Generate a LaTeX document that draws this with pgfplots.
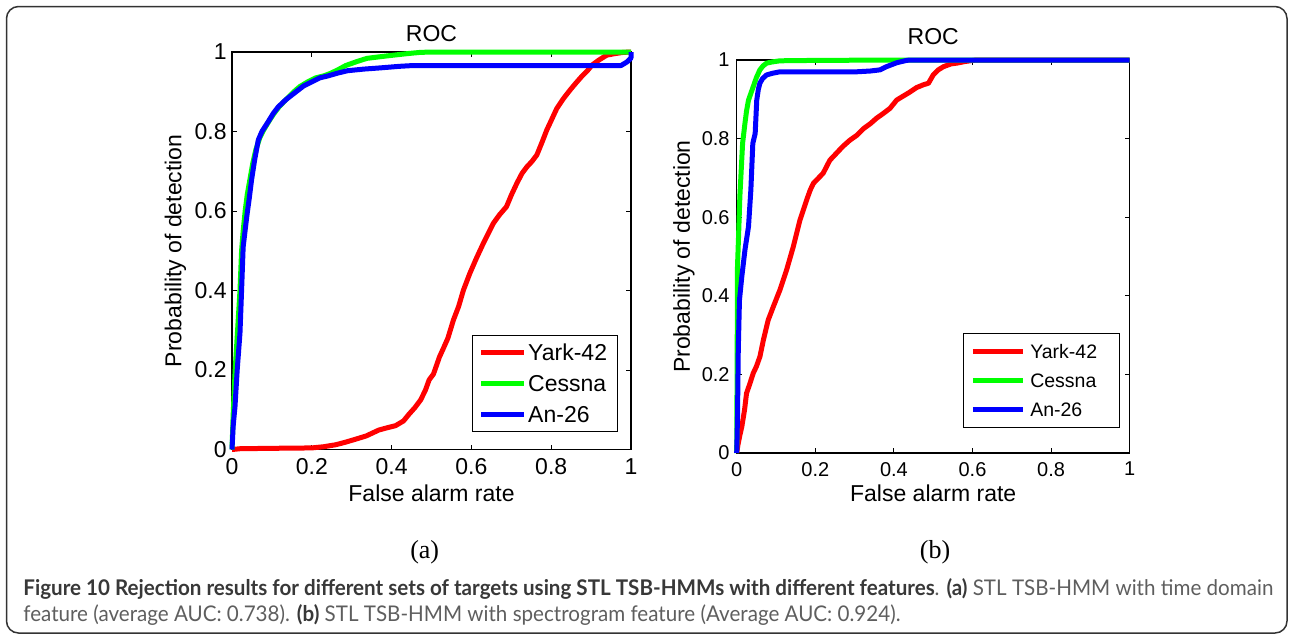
\documentclass[border=0pt]{standalone}
\usepackage{pgfplots}
\pgfplotsset{compat=1.18}
\usepackage{fontspec}
\usepackage{graphicx}
\setmainfont{Liberation Sans}
\newfontfamily\capfont{Lato}
\newfontfamily\serifcap{Liberation Serif}
\definecolor{capbold}{HTML}{383838}
\definecolor{capreg}{HTML}{5E5E5E}
\definecolor{framegray}{HTML}{333333}

\pgfplotstableread{
x y
0 0
0.02 0.002
0.1 0.003
0.2 0.004
0.23 0.007
0.26 0.012
0.283 0.018
0.31 0.026
0.336 0.034
0.368 0.049
0.39 0.055
0.41 0.06
0.43 0.072
0.442 0.087
0.458 0.105
0.473 0.125
0.485 0.15
0.494 0.175
0.505 0.19
0.52 0.233
0.53 0.255
0.541 0.28
0.555 0.326
0.568 0.36
0.58 0.401
0.596 0.443
0.612 0.48
0.63 0.519
0.643 0.545
0.655 0.569
0.67 0.59
0.688 0.611
0.70 0.64
0.714 0.67
0.727 0.695
0.739 0.711
0.752 0.725
0.764 0.741
0.777 0.773
0.789 0.804
0.802 0.832
0.814 0.858
0.83 0.882
0.847 0.904
0.862 0.922
0.876 0.938
0.89 0.952
0.902 0.967
0.92 0.98
0.939 0.992
0.96 0.996
0.98 0.999
1 1
}\redA

\pgfplotstableread{
x y
0 0
0.003 0.09
0.008 0.2
0.014 0.3
0.02 0.4
0.024 0.5
0.028 0.55
0.033 0.6
0.038 0.64
0.045 0.68
0.052 0.72
0.06 0.755
0.07 0.785
0.08 0.805
0.092 0.825
0.105 0.845
0.118 0.862
0.135 0.88
0.155 0.9
0.17 0.913
0.19 0.925
0.21 0.935
0.23 0.94
0.246 0.946
0.265 0.955
0.285 0.966
0.313 0.976
0.338 0.984
0.37 0.988
0.404 0.992
0.44 0.996
0.471 0.999
0.5 1
1 1
}\greenA

\pgfplotstableread{
x y
0 0
0.003 0.06
0.0075 0.108
0.013 0.2
0.02 0.293
0.024 0.4
0.028 0.51
0.037 0.586
0.043 0.63
0.049 0.678
0.057 0.73
0.066 0.779
0.075 0.8
0.091 0.825
0.103 0.845
0.116 0.862
0.135 0.88
0.158 0.898
0.18 0.915
0.2 0.925
0.22 0.935
0.241 0.94
0.265 0.947
0.29 0.953
0.33 0.957
0.371 0.960
0.42 0.964
0.454 0.966
0.6 0.966
0.8 0.966
0.975 0.966
0.99 0.975
1 0.985
1 1
}\blueA

\pgfplotstableread{
x y
0 0
0.003 0.02
0.008 0.045
0.013 0.067
0.02 0.11
0.025 0.152
0.033 0.175
0.042 0.203
0.05 0.22
0.059 0.245
0.068 0.288
0.08 0.338
0.093 0.372
0.11 0.415
0.127 0.466
0.144 0.525
0.161 0.593
0.17 0.62
0.178 0.644
0.187 0.669
0.195 0.686
0.22 0.712
0.237 0.745
0.254 0.763
0.27 0.78
0.288 0.796
0.305 0.808
0.322 0.825
0.34 0.838
0.356 0.852
0.373 0.864
0.39 0.877
0.407 0.898
0.415 0.903
0.44 0.918
0.458 0.93
0.475 0.937
0.488 0.941
0.5 0.962
0.513 0.975
0.526 0.983
0.545 0.99
0.56 0.992
0.58 0.996
0.594 0.998
0.61 1
1 1
}\redB

\pgfplotstableread{
x y
0 0
0.001 0.2
0.002 0.474
0.005 0.56
0.008 0.652
0.012 0.73
0.015 0.788
0.021 0.839
0.025 0.87
0.03 0.898
0.036 0.915
0.042 0.932
0.05 0.955
0.059 0.975
0.067 0.985
0.076 0.992
0.09 0.995
0.11 0.998
0.2 0.999
0.42 1
1 1
}\greenB

\pgfplotstableread{
x y
0 0
0.002 0.092
0.004 0.262
0.007 0.389
0.013 0.449
0.021 0.517
0.03 0.576
0.036 0.669
0.041 0.788
0.047 0.813
0.051 0.898
0.055 0.925
0.059 0.941
0.066 0.953
0.076 0.962
0.09 0.966
0.11 0.97
0.305 0.97
0.34 0.972
0.365 0.975
0.381 0.983
0.407 0.993
0.432 0.999
0.441 1
1 1
}\blueB

\pgfplotsset{
  rocaxis/.style={
    scale only axis, anchor=south west,
    xmin=0, xmax=1, ymin=0, ymax=1, clip=false,
    xtick={0,0.2,0.4,0.6,0.8,1}, ytick={0,0.2,0.4,0.6,0.8,1},
    xticklabels={0,0.2,0.4,0.6,0.8,1}, yticklabels={0,0.2,0.4,0.6,0.8,1},
    tick align=inside, major tick length=2.5pt,
    tick style={black, line width=0.5pt},
    axis line style={black, line width=0.6pt},
    /pgf/number format/assume math mode=true,
    every axis title shift=0pt,
    title={ROC}, xlabel={False alarm rate}, ylabel={Probability of detection},
    legend cell align=left,
    every axis plot/.append style={line width=2.5pt, line join=round},
  },
}

\begin{document}
\begin{tikzpicture}
\useasboundingbox (0,0) rectangle (644.5pt,-317pt);
\draw[framegray, line width=0.75pt, rounded corners=6pt] (3.25pt,-3.25pt) rectangle (643.5pt,-316.5pt);

% ---------- (a) ----------
\begin{axis}[rocaxis,
  at={(116pt,-224.75pt)}, width=199.5pt, height=198.75pt,
  ticklabel style={font=\fontsize{11.5}{13.8}\selectfont},
  xticklabel style={anchor=north, inner sep=0pt, yshift=-4.25pt},
  yticklabel style={anchor=east, inner sep=0pt, xshift=-2.5pt},
  title style={at={(0.5,1.0277)}, anchor=base, yshift=0pt, inner sep=0pt, font=\fontsize{11.5}{13.8}\selectfont},
  xlabel style={at={(0.5,-0.1308)}, anchor=base, inner sep=0pt, font=\fontsize{11.5}{13.8}\selectfont},
  ylabel style={at={(-0.1416,0.5)}, anchor=center, inner sep=0pt, font=\fontsize{11.5}{13.8}\selectfont},
  legend style={at={(0.967,0.288)}, anchor=north east, draw=black, line width=0.6pt, fill=white,
    inner xsep=3.25pt, inner ysep=4.35pt, row sep=7.2pt, column sep=0.75pt,
    font=\fontsize{11.5}{13.8}\selectfont,
    nodes={inner sep=0pt, text height=8.3pt, text depth=0pt, text width=41.25pt, align=left}},
  legend image code/.code={\draw[#1, line width=2.5pt] (0pt,0pt) -- (21.5pt,0pt);},
]
\addplot[red] table[x=x,y=y] {\redA}; \addlegendentry{Yark-42}
\addplot[green] table[x=x,y=y] {\greenA}; \addlegendentry{Cessna}
\addplot[blue] table[x=x,y=y] {\blueA}; \addlegendentry{An-26}
\end{axis}

% ---------- (b) ----------
\begin{axis}[rocaxis,
  at={(368.35pt,-226.5pt)}, width=196.5pt, height=196.5pt,
  ticklabel style={font=\fontsize{10}{12}\selectfont},
  xticklabel style={anchor=north, inner sep=0pt, yshift=-4.35pt},
  yticklabel style={anchor=east, inner sep=0pt, xshift=-3.35pt},
  title style={at={(0.5,1.0407)}, anchor=base, yshift=0pt, inner sep=0pt, font=\fontsize{11.5}{13.8}\selectfont},
  xlabel style={at={(0.5,-0.1239)}, anchor=base, inner sep=0pt, font=\fontsize{11.5}{13.8}\selectfont},
  ylabel style={at={(-0.1341,0.5)}, anchor=center, inner sep=0pt, font=\fontsize{11.5}{13.8}\selectfont},
  legend style={at={(0.975,0.305)}, anchor=north east, draw=black, line width=0.6pt, fill=white,
    inner xsep=3.55pt, inner ysep=5.5pt, row sep=7.5pt, column sep=2.4pt,
    font=\fontsize{9.75}{11.7}\selectfont,
    nodes={inner sep=0pt, text height=7pt, text depth=0pt, text width=40.95pt, align=left}},
  legend image code/.code={\draw[#1, line width=2.5pt] (0pt,0pt) -- (25pt,0pt);},
]
\addplot[red] table[x=x,y=y] {\redB}; \addlegendentry{Yark-42}
\addplot[green] table[x=x,y=y] {\greenB}; \addlegendentry{Cessna}
\addplot[blue] table[x=x,y=y] {\blueB}; \addlegendentry{An-26}
\end{axis}

\node[anchor=base, inner sep=0pt, font=\serifcap\fontsize{13}{15}\selectfont] at (212.35pt,-279pt) {(a)};
\node[anchor=base, inner sep=0pt, font=\serifcap\fontsize{13}{15}\selectfont] at (467.5pt,-279pt) {(b)};

\node[anchor=base west, inner sep=0pt] at (11.5pt,-297.5pt) {\resizebox{625pt}{\height}{\capfont\fontsize{10.8}{13.3}\selectfont\begin{tabular}[t]{@{}l@{}}%
{\color{capbold}\bfseries Figure 10 Rejection results for different sets of targets using STL TSB-HMMs with different features}{\color{capreg}.} {\color{capbold}\bfseries (a)} {\color{capreg}STL TSB-HMM with time domain}\\
{\color{capreg}feature (average AUC: 0.738).} {\color{capbold}\bfseries (b)} {\color{capreg}STL TSB-HMM with spectrogram feature (Average AUC: 0.924).}
\end{tabular}}};
\end{tikzpicture}
\end{document}
